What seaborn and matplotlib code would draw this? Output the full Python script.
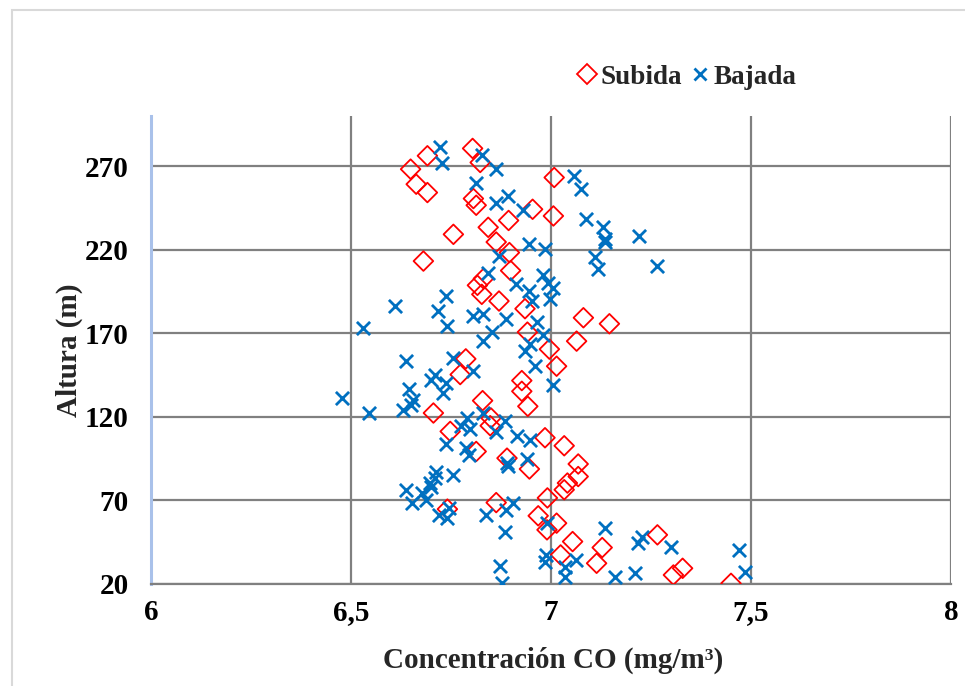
import matplotlib
matplotlib.use("Agg")
import matplotlib.pyplot as plt
import seaborn as sns
import pandas as pd
from matplotlib.lines import Line2D
from matplotlib.patches import Rectangle

# ---- data ----
subida_x = [6.691, 6.804, 6.649, 6.823, 7.008, 6.663, 6.691, 6.806, 6.813, 6.954,
            7.006, 6.894, 6.843, 6.756, 6.863, 6.896, 6.681, 6.899, 6.831, 6.816,
            6.827, 6.870, 6.935, 7.081, 7.146, 6.941, 7.064, 6.996, 6.787, 7.014,
            6.773, 6.927, 6.927, 6.829, 6.942, 6.706, 6.850, 6.848, 6.748, 6.985,
            7.033, 6.813, 6.890, 7.068, 6.946, 7.068, 7.041, 7.033, 6.991, 6.863,
            6.741, 6.968, 7.014, 6.990, 7.054, 7.128, 7.024, 7.114, 7.266, 7.329,
            7.306, 7.450]
subida_y = [276.2, 280.6, 268.2, 272.2, 263.2, 259.2, 254.2, 250.6, 246.6, 244.2,
            240.2, 237.5, 233.4, 229.2, 224.6, 218.3, 213.2, 207.5, 202.7, 198.7,
            193.3, 189.3, 184.7, 179.3, 175.7, 170.7, 165.3, 160.5, 154.7, 150.3,
            145.3, 141.7, 135.3, 129.7, 126.3, 122.3, 119.3, 114.7, 111.3, 107.5,
            102.7, 99.3, 95.3, 91.8, 88.8, 84.3, 80.4, 76.4, 71.5, 68.7,
            64.8, 60.8, 56.4, 52.4, 45.4, 41.8, 37.4, 32.4, 49.4, 29.4,
            25.4, 20.4]

bajada_x = [6.723, 6.827, 6.727, 6.863, 7.058, 6.813, 7.076, 6.893, 6.863, 6.931,
            7.088, 7.131, 7.221, 7.135, 7.135, 6.944, 6.984, 6.869, 7.110, 7.266,
            7.117, 6.843, 6.981, 6.993, 6.913, 7.006, 6.946, 6.738, 6.998, 6.952,
            6.610, 6.717, 6.831, 6.806, 6.888, 6.964, 6.741, 6.531, 6.852, 6.981,
            6.829, 6.948, 6.935, 6.754, 6.638, 6.960, 6.804, 6.710, 6.700, 6.738,
            7.004, 6.646, 6.729, 6.478, 6.656, 6.649, 6.631, 6.546, 6.831, 6.790,
            6.885, 6.776, 6.798, 6.863, 6.914, 6.948, 6.738, 6.788, 6.796, 6.941,
            6.890, 6.893, 6.756, 6.713, 6.710, 6.698, 6.700, 6.638, 6.677, 6.688,
            6.653, 6.906, 6.888, 6.746, 6.838, 6.721, 6.741, 6.990, 7.136, 6.885,
            7.227, 7.217, 7.300, 7.470, 6.988, 6.985, 7.063, 7.035, 6.873, 7.485,
            7.210, 7.035, 7.160, 6.877]
bajada_y = [281.6, 276.6, 271.6, 268.2, 264.2, 260.2, 256.2, 252.2, 248.2, 243.6,
            238.2, 233.6, 228.2, 224.8, 226.3, 223.4, 220.2, 216.2, 215.7, 210.2,
            208.7, 206.0, 204.7, 200.3, 199.3, 197.3, 195.2, 192.3, 190.3, 189.3,
            186.3, 183.3, 181.3, 180.3, 178.3, 176.7, 174.3, 173.3, 170.7, 168.7,
            165.3, 163.3, 159.3, 155.3, 153.7, 150.3, 147.3, 145.3, 142.3, 140.3,
            139.3, 136.7, 134.3, 131.3, 130.3, 127.3, 124.3, 122.3, 122.3, 119.3,
            117.3, 114.3, 112.8, 110.8, 108.3, 106.3, 103.7, 101.3, 97.3, 94.7,
            92.3, 90.7, 85.5, 87.3, 83.4, 80.4, 78.3, 76.4, 74.4, 70.4,
            68.4, 68.7, 64.4, 65.4, 61.4, 61.4, 59.4, 56.5, 53.8, 51.4,
            48.4, 44.4, 42.4, 40.4, 37.4, 33.4, 34.4, 30.4, 30.8, 27.4,
            26.8, 24.4, 24.4, 20.4]

x_ticks = [6, 6.5, 7, 7.5, 8]
x_tick_labels = ["6", "6,5", "7", "7,5", "8"]
y_ticks = [20, 70, 120, 170, 220, 270]
series_names = ["Subida", "Bajada"]

df_sub = pd.DataFrame({"x": subida_x, "y": subida_y})
df_baj = pd.DataFrame({"x": bajada_x, "y": bajada_y})

sns.set_theme(style="white")
plt.rcParams["font.family"] = ["Liberation Serif", "DejaVu Serif"]
plt.rcParams["font.weight"] = "bold"

RED = "#ff0000"
BLUE = "#0070c0"

fig = plt.figure(figsize=(9.65, 6.86), dpi=100)
ax = fig.add_axes([151 / 965, 1 - 584 / 686, 800 / 965, 468 / 686])

sns.scatterplot(data=df_sub, x="x", y="y", ax=ax, marker="D", s=100,
                color=RED, facecolor="none", edgecolor=RED, linewidth=1.3,
                zorder=3)
sns.scatterplot(data=df_baj, x="x", y="y", ax=ax, marker="x", s=90,
                color=BLUE, linewidth=2.0, zorder=4)

ax.set_xlim(6, 8)
ax.set_ylim(20, 300)
ax.set_xticks(x_ticks)
ax.set_xticklabels(x_tick_labels)
ax.set_yticks(y_ticks)
ax.tick_params(axis="both", length=0, labelsize=21, colors="black")
ax.tick_params(axis="y", pad=16)
ax.tick_params(axis="x", pad=11)
for lab in ax.get_xticklabels() + ax.get_yticklabels():
    lab.set_fontweight("bold")

ax.grid(True, color="#808080", linewidth=1.6)
ax.set_axisbelow(True)
for s in ["top", "right"]:
    ax.spines[s].set_visible(False)
ax.spines["bottom"].set_color("#808080")
ax.spines["bottom"].set_linewidth(1.6)
ax.spines["left"].set_color("#a9c1ea")
ax.spines["left"].set_linewidth(2.2)

ax.set_xlabel("Concentración CO (mg/m³)", fontsize=21, fontweight="bold")
ax.set_ylabel("Altura (m)", fontsize=21, fontweight="bold")
ax.xaxis.set_label_coords(0.5025, -0.133)
ax.yaxis.set_label_coords(-0.085, 0.5)

handles = [
    Line2D([], [], marker="D", linestyle="none", markersize=10,
           markerfacecolor="none", markeredgecolor=RED, markeredgewidth=1.3),
    Line2D([], [], marker="x", linestyle="none", markersize=9,
           markeredgecolor=BLUE, markeredgewidth=2.0),
]
fig.legend(handles, series_names, loc="center", ncol=2,
           bbox_to_anchor=(686 / 965, 1 - 77 / 686), frameon=False,
           prop={"family": "Liberation Serif", "weight": "bold", "size": 19.5},
           handlelength=0.8, handletextpad=0.1, columnspacing=0.25)

fig.patches.append(Rectangle((12 / 965, -0.1), 1.2, 1 - 10 / 686 + 0.1,
                             transform=fig.transFigure, fill=False,
                             edgecolor="#d9d9d9", linewidth=1.5))

fig.savefig("out.png", dpi=100)
